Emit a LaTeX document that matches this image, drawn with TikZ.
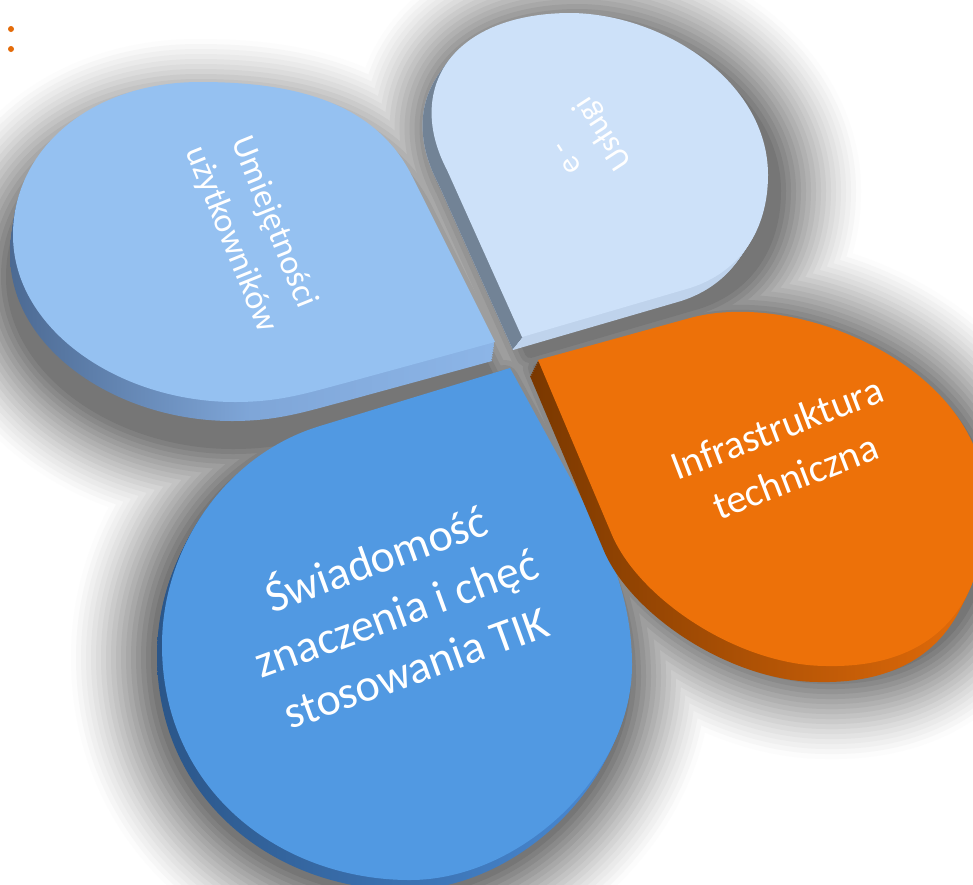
\documentclass[tikz,border=0pt]{standalone}
\usepackage{fontspec}
\setmainfont{Carlito}
\definecolor{faceA}{HTML}{95C1F1}
\definecolor{faceB}{HTML}{CDE1F9}
\definecolor{faceC}{HTML}{5199E2}
\definecolor{faceD}{HTML}{ED7109}
\definecolor{sideAl}{HTML}{4C6A93}
\definecolor{sideAm}{HTML}{7FA6D8}
\definecolor{sideAr}{HTML}{8CB5E7}
\definecolor{sideBl}{HTML}{BFD3EC}
\definecolor{sideBd}{HTML}{728396}
\definecolor{sideCl}{HTML}{2B5689}
\definecolor{sideCr}{HTML}{4A8BD6}
\definecolor{sideDl}{HTML}{7A3800}
\definecolor{sideDr}{HTML}{E46C0A}
\definecolor{dotcol}{HTML}{E46C0A}
\tikzset{
  petalA/.style={insert path={(495,342) -- (412,176) .. controls (374,100) and (290,82) .. (200,82) .. controls (90,82) and (13,150) .. (13,235) .. controls (13,330) and (120,402) .. (235,402) .. controls (280,402) and (307,393) .. (345,383) -- cycle}},
  petalB/.style={insert path={(522,337) -- (447,170) .. controls (405,90) and (450,15) .. (567,13) .. controls (660,12) and (768,80) .. (768,175) .. controls (768,230) and (740,272) .. (690,288) -- cycle}},
  petalC/.style={insert path={(510,368) -- (320,426) .. controls (224,455) and (162,550) .. (162,645) .. controls (162,790) and (280,880) .. (410,880) .. controls (520,880) and (632,775) .. (632,665) .. controls (632,600) and (609,549) .. (585,505) -- cycle}},
  petalD/.style={insert path={(538,360) -- (690,318) .. controls (800,288) and (985,370) .. (985,500) .. controls (988,610) and (930,668) .. (827,666) .. controls (740,666) and (640,600) .. (612,535) -- cycle}},
  txt/.style={text=white, align=center, inner sep=0pt},
  shad/.style={draw=black!#1, fill=black!#1, line join=round},
}
\begin{document}
\begin{tikzpicture}[x=1pt,y=-1pt]
\useasboundingbox (0,0) rectangle (973,884);
\fill[white] (0,0) rectangle (973,884);
% soft shadow (blurred union of the petals)
\foreach \w in {170,160,...,10} {
  \pgfmathsetmacro\p{58*(1-\w/180)^1.3}
  \path[shad=\p, line width=\w pt, shift={(-2,42)}] [petalA];
  \path[shad=\p, line width=\w pt, shift={(8,16)}] [petalB];
  \path[shad=\p, line width=\w pt, shift={(-6,12)}] [petalC];
  \path[shad=\p, line width=\w pt, shift={(0,8)}] [petalD];
}
% petal A
\foreach \f in {0.125,0.25,...,1} {
  \shade[left color=sideAl, right color=sideAr, middle color=sideAm, shift={(\f*-3,\f*19)}] [petalA];
}
\fill[faceA] [petalA];
% petal B
\foreach \f in {0.125,0.25,...,1} {
  \fill[sideBl, shift={(\f*-9,\f*13)}] [petalB];
}
\begin{scope}
  \clip (522,337) -- (400,496) -- (0,496) -- (0,0) -- (781,0) -- cycle;
  \foreach \f in {0.125,0.25,...,1} {
    \fill[sideBd, shift={(\f*-9,\f*13)}] [petalB];
  }
\end{scope}
\fill[faceB] [petalB];
% petal C
\foreach \f in {0.125,0.25,...,1} {
  \shade[left color=sideCl, right color=sideCr, shift={(\f*-5,\f*10)}] [petalC];
}
\fill[faceC] [petalC];
% petal D
\foreach \f in {0.125,0.25,...,1} {
  \shade[left color=sideDl, right color=sideDr, shift={(\f*-8,\f*16)}] [petalD];
}
\fill[faceD] [petalD];
% texts
\node[txt, rotate=-68, font=\fontsize{34}{46}\selectfont] (tA) at (252,231) {Umiejętności\\użytkowników};
\node[txt, rotate=123, font=\fontsize{32}{44}\selectfont] (tB) at (588,144) {e -\\Usługi};
\node[txt, rotate=20, font=\fontsize{46}{58}\selectfont] (tC) at (395,610) {Świadomość\\znaczenia i chęć\\stosowania TIK};
\node[txt, rotate=21, font=\fontsize{40}{52}\selectfont] (tD) at (786,452) {Infrastruktura\\techniczna};
% bullets
\fill[dotcol] (11,29) circle (3);
\fill[dotcol] (11,49) circle (3);
\end{tikzpicture}
\end{document}
